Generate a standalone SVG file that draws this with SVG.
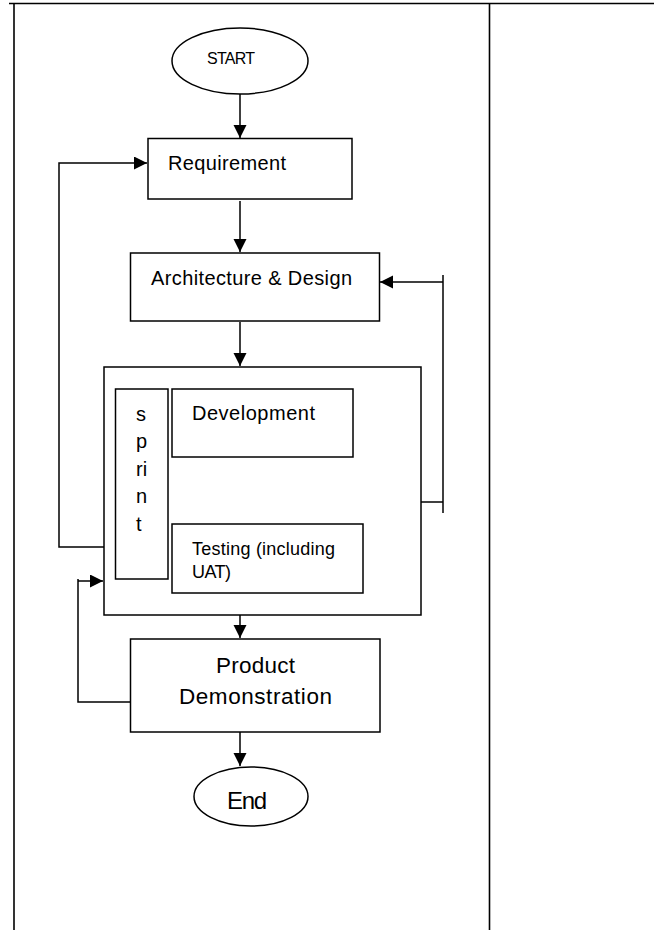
<svg xmlns="http://www.w3.org/2000/svg" width="654" height="930" viewBox="0 0 654 930">
<defs>
<style>
.frame{stroke:#000;stroke-width:1.6;fill:none}
.box{stroke:#000;stroke-width:1.5;fill:#fff}
.ln{stroke:#000;stroke-width:1.5;fill:none}
text{font-family:"Liberation Sans",Arial,sans-serif;fill:#000}
</style>
<marker id="ah" markerUnits="userSpaceOnUse" markerWidth="14" markerHeight="14" refX="13" refY="6.5" orient="auto">
<path d="M0,0 L13,6.5 L0,13 z" fill="#000"/>
</marker>
</defs>
<g id="table">
<line class="frame" x1="9" y1="3.5" x2="654" y2="3.5" stroke-width="2"/>
<line class="frame" x1="14" y1="4" x2="14" y2="930"/>
<line class="frame" x1="489.5" y1="4" x2="489.5" y2="930"/>
</g>
<g id="connectors">
<path class="ln" d="M240,94 V138" marker-end="url(#ah)"/>
<path class="ln" d="M240,201 V252" marker-end="url(#ah)"/>
<path class="ln" d="M240,322 V366" marker-end="url(#ah)"/>
<path class="ln" d="M240,457 V523" marker-end="url(#ah)"/>
<path class="ln" d="M240,615 V638" marker-end="url(#ah)"/>
<path class="ln" d="M240,732 V766" marker-end="url(#ah)"/>
<path class="ln" d="M104,547 H59 V163 H147" marker-end="url(#ah)"/>
<path class="ln" d="M421,502 H443"/>
<path class="ln" d="M443,275 V513"/>
<path class="ln" d="M443,282 H380" marker-end="url(#ah)"/>
<path class="ln" d="M130,702 H78 V579"/>
<path class="ln" d="M78,581 H103" marker-end="url(#ah)"/>
</g>
<g id="start">
<ellipse class="box" cx="240" cy="61" rx="68" ry="33"/>
<text x="207" y="64" font-size="16" textLength="48">START</text>
</g>
<g id="requirement">
<rect class="box" x="148" y="138.5" width="204" height="60.5"/>
<text x="168" y="170" font-size="20" textLength="118">Requirement</text>
</g>
<g id="architecture">
<rect class="box" x="130.5" y="253" width="249" height="68"/>
<text x="151" y="285" font-size="20" textLength="201">Architecture &amp; Design</text>
</g>
<g id="sprint">
<rect class="box" x="104" y="367" width="317" height="248"/>
</g>
<g id="sprint-label">
<rect class="box" x="115.5" y="389" width="52.5" height="190"/>
<text x="136" y="421" font-size="20">s</text>
<text x="136" y="448" font-size="20">p</text>
<text x="136" y="476" font-size="20">ri</text>
<text x="136" y="503" font-size="20">n</text>
<text x="136" y="531" font-size="20">t</text>
</g>
<g id="development">
<rect class="box" x="172" y="389" width="181" height="68"/>
<text x="192" y="420" font-size="20" textLength="123">Development</text>
</g>
<g id="testing">
<rect class="box" x="172" y="524" width="191" height="69"/>
<text x="192" y="555" font-size="18" textLength="143">Testing (including</text>
<text x="192" y="578" font-size="18" textLength="39">UAT)</text>
</g>
<g id="product">
<rect class="box" x="130.5" y="639" width="249.5" height="93"/>
<text x="216" y="673" font-size="22.5" textLength="79">Product</text>
<text x="179" y="704" font-size="22.5" textLength="153">Demonstration</text>
</g>
<g id="end">
<ellipse class="box" cx="251" cy="796.5" rx="57" ry="29.5"/>
<text x="227" y="809" font-size="24" textLength="40">End</text>
</g>
</svg>
